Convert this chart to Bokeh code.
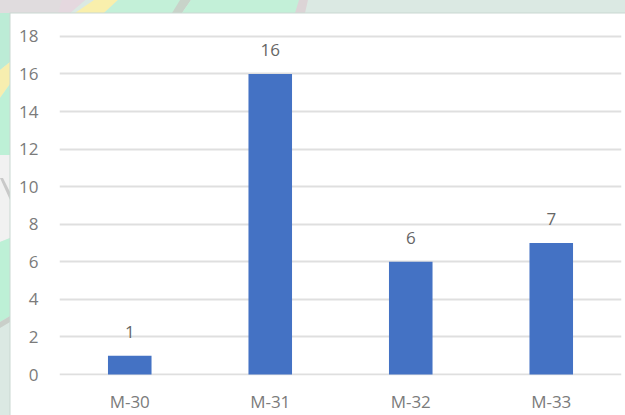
from urllib.parse import quote

from bokeh.core.properties import value
from bokeh.embed import file_html
from bokeh.models import ColumnDataSource
from bokeh.plotting import figure
from bokeh.resources import INLINE

categories = ["M-30", "M-31", "M-32", "M-33"]
counts = [1, 16, 6, 7]
y_ticks = list(range(0, 19, 2))

FONT = "Open Sans"
FONT_SIZE = "17px"
TEXT_COLOR = "#7b7b7b"
BAR_COLOR = "#4472c4"
GRID_COLOR = "#dfdfdf"
WIDTH, HEIGHT = 625, 415

# Map fragments behind the white card: (fill, polygon points in page pixels)
backdrop = [
    ("#dbe9e3", "0,0 625,0 625,415 0,415"),
    ("#e0dcde", "0,0 85,0 70,13 0,13"),
    ("#e5d8df", "62,0 85,0 70,13 58,13"),
    ("#f9efac", "94,0 118,0 104,13 75,13"),
    ("#c3f0d8", "118,0 187,0 175,13 104,13"),
    ("#c8d3c9", "180,0 191,0 182,13 172,13"),
    ("#c3f0d8", "191,0 304,0 298,13 182,13"),
    ("#dcd4d6", "299,0 308,0 305,13 295,13"),
    ("#bcecd6", "0,13 10,13 10,62 0,70"),
    ("#f7eeaf", "0,70 10,62 10,84 0,98"),
    ("#bdf0d6", "0,98 10,84 10,155 0,155"),
    ("#f1f1f1", "0,155 10,155 10,238 0,242"),
    ("#c9c9c9", "0,178 3,178 10,192 10,200"),
    ("#bdf0d6", "0,242 10,238 10,316 0,322"),
    ("#c9cfc9", "0,322 10,316 10,322 0,328"),
]

shapes = "".join(f'<polygon fill="{fill}" points="{pts}"/>' for fill, pts in backdrop)
# The card runs past the right and bottom page edges, so only two of its borders show
card = '<rect x="10" y="13" width="700" height="500" fill="#ffffff" stroke="#c9d8d1"/>'
backdrop_svg = (
    f'<svg xmlns="http://www.w3.org/2000/svg" width="{WIDTH}" height="{HEIGHT}">'
    f"{shapes}{card}</svg>"
)

# The y range overshoots 0 and 18 a little so the grid draws its first and last lines
p = figure(
    x_range=categories,
    y_range=(-0.05, 18.1),
    width=WIDTH,
    height=HEIGHT,
    output_backend="svg",
    toolbar_location=None,
    min_border_left=59,
    min_border_right=4,
    min_border_top=34,
    min_border_bottom=40,
    outline_line_color=None,
    background_fill_color=None,
    border_fill_color=None,
)
p.styles = {
    "background-image": f"url(\"data:image/svg+xml,{quote(backdrop_svg)}\")",
    "background-repeat": "no-repeat",
}

source = ColumnDataSource(data=dict(category=categories, count=counts))
p.vbar(x="category", top="count", width=0.31, bottom=0, source=source,
       fill_color=BAR_COLOR, line_color=None)
p.text(x="category", y="count", text="count", source=source,
       text_align="center", text_baseline="bottom", y_offset=-18,
       text_font=value(FONT), text_font_size=FONT_SIZE, text_color="#666666")

p.xgrid.visible = False
p.ygrid.ticker = y_ticks
p.ygrid.grid_line_color = GRID_COLOR
p.ygrid.grid_line_width = 2

p.yaxis.ticker = y_ticks
p.yaxis.axis_line_color = None
p.yaxis.major_tick_line_color = None
p.yaxis.minor_tick_line_color = None
p.yaxis.major_label_standoff = 15
p.yaxis.major_label_text_font = FONT
p.yaxis.major_label_text_font_size = FONT_SIZE
p.yaxis.major_label_text_color = TEXT_COLOR

p.xaxis.axis_line_color = None
p.xaxis.major_tick_line_color = None
p.xaxis.minor_tick_line_color = None
p.xaxis.major_label_standoff = 8
p.xaxis.major_label_text_font = FONT
p.xaxis.major_label_text_font_size = FONT_SIZE
p.xaxis.major_label_text_color = TEXT_COLOR

open("out.html", "w").write(file_html(p, INLINE))
